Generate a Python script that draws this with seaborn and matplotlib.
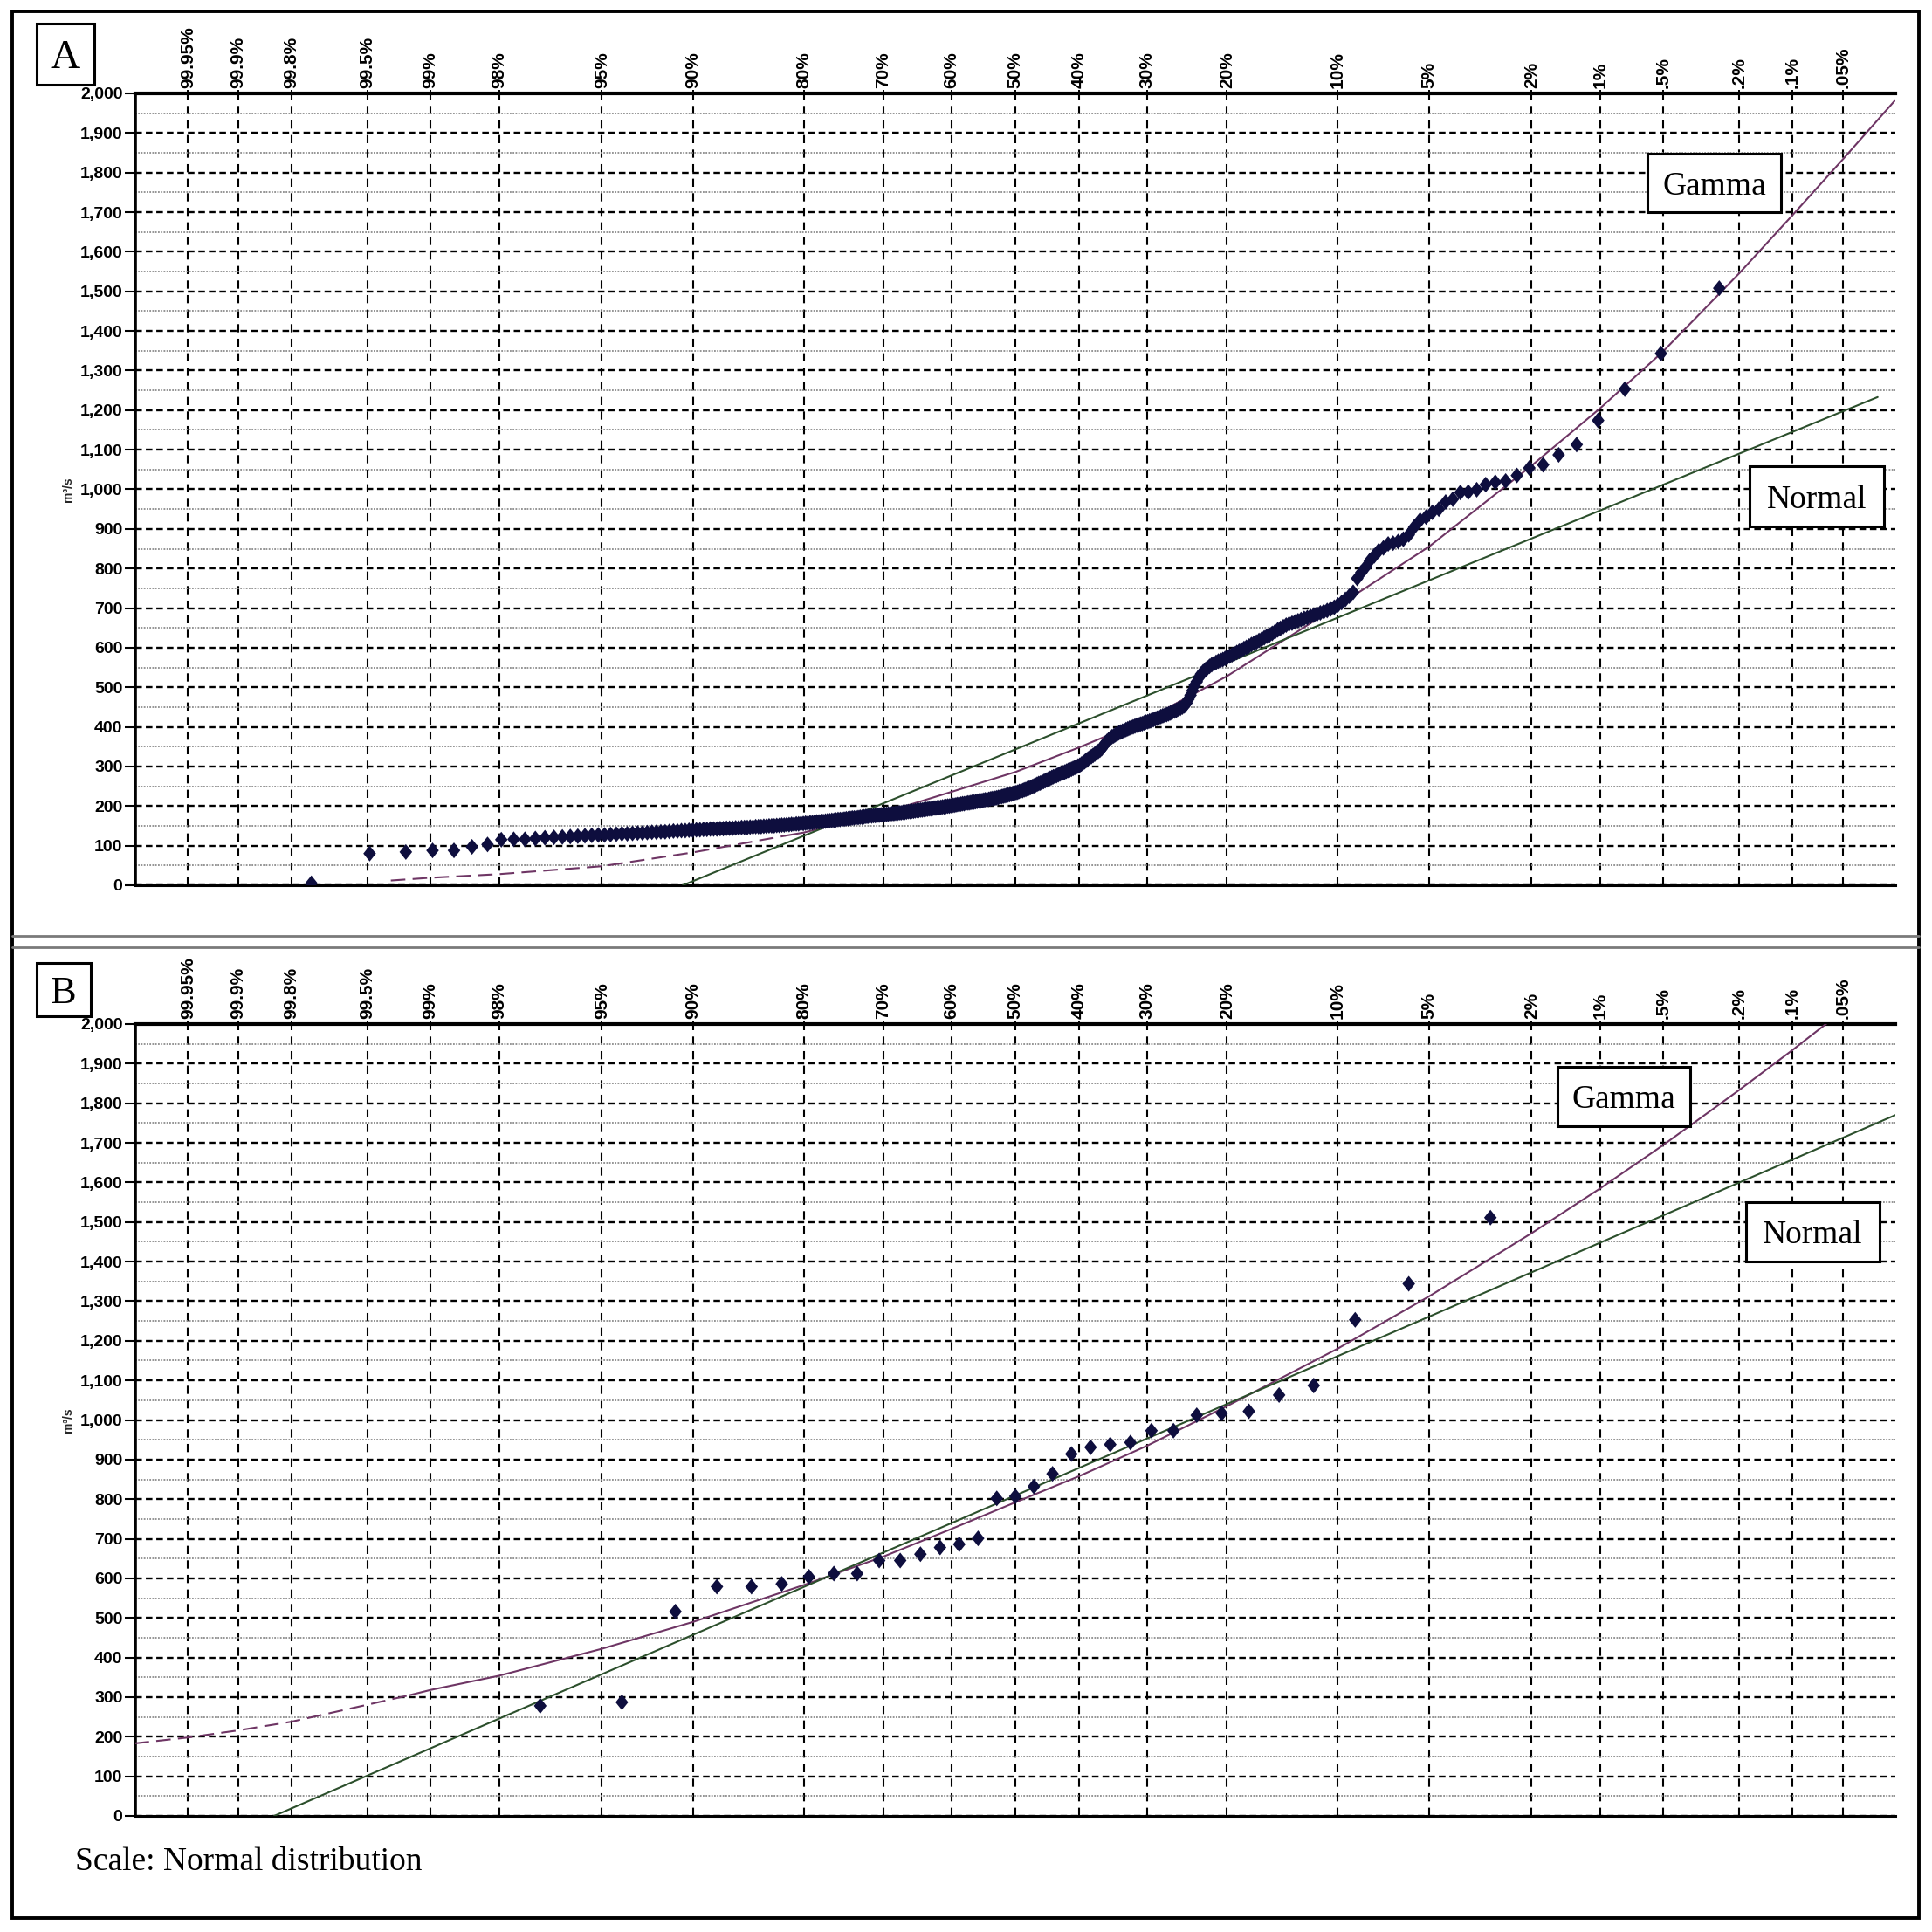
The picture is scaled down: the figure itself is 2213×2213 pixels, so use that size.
import numpy as np
import pandas as pd
import matplotlib
matplotlib.use("Agg")
import matplotlib.pyplot as plt
import seaborn as sns
from matplotlib.patches import Rectangle
from matplotlib.lines import Line2D
from statistics import NormalDist

# ---------------- data ----------------
# exceedance-probability tick marks (top axis)
PROB_TICKS = [99.95, 99.9, 99.8, 99.5, 99, 98, 95, 90, 80, 70, 60, 50, 40, 30,
              20, 10, 5, 2, 1, 0.5, 0.2, 0.1, 0.05]
PROB_LABELS = ["99.95%", "99.9%", "99.8%", "99.5%", "99%", "98%", "95%", "90%",
               "80%", "70%", "60%", "50%", "40%", "30%", "20%", "10%", "5%",
               "2%", "1%", ".5%", ".2%", ".1%", ".05%"]
Y_TICKS = list(range(0, 2001, 100))
Y_LABELS = [f"{v:,}" for v in Y_TICKS]

# Panel A: observed flows (m3/s), ranked from largest to smallest
FLOW_A = [
    1508, 1343, 1253, 1174, 1113, 1087, 1062, 1054, 1035, 1021,
    1018, 1012, 999, 993, 992, 975, 968, 950, 942, 930,
    922, 905, 885, 874, 868, 864, 862, 852, 845, 832,
    820, 803, 790, 775, 740, 730, 722, 714, 708, 702,
    698, 694, 691, 688, 685, 682, 679, 676, 674, 671,
    668, 665, 662, 660, 657, 653, 649, 645, 640, 636,
    632, 629, 625, 621, 618, 614, 611, 608, 604, 601,
    598, 594, 591, 588, 585, 582, 579, 576, 573, 570,
    568, 566, 563, 560, 557, 553, 549, 544, 539, 533,
    524, 514, 505, 492, 480, 470, 460, 453, 450, 447,
    445, 442, 440, 438, 435, 433, 431, 429, 428, 426,
    424, 422, 420, 418, 416, 415, 413, 412, 410, 408,
    407, 405, 404, 402, 400, 399, 397, 395, 393, 391,
    389, 387, 385, 382, 380, 377, 375, 371, 367, 363,
    358, 351, 345, 341, 338, 335, 331, 328, 325, 322,
    319, 316, 312, 309, 306, 303, 301, 299, 297, 295,
    293, 291, 290, 288, 286, 284, 283, 281, 279, 277,
    275, 274, 272, 270, 268, 266, 264, 262, 260, 258,
    257, 255, 253, 251, 249, 247, 245, 244, 242, 241,
    239, 238, 237, 235, 234, 233, 232, 230, 229, 228,
    227, 226, 225, 224, 223, 222, 221, 220, 219, 219,
    218, 217, 216, 216, 215, 214, 213, 213, 212, 211,
    210, 210, 209, 208, 208, 207, 206, 206, 205, 204,
    204, 203, 202, 202, 201, 200, 200, 199, 198, 198,
    197, 196, 196, 195, 195, 194, 193, 193, 192, 192,
    191, 190, 190, 189, 189, 188, 187, 187, 186, 186,
    185, 184, 184, 183, 183, 182, 182, 181, 181, 180,
    180, 179, 179, 178, 178, 177, 177, 176, 176, 175,
    175, 174, 174, 173, 172, 172, 171, 171, 170, 170,
    169, 168, 168, 167, 167, 166, 166, 165, 164, 164,
    163, 163, 162, 161, 161, 160, 160, 159, 158, 158,
    157, 157, 156, 156, 155, 155, 154, 154, 153, 153,
    152, 152, 151, 151, 150, 150, 150, 149, 149, 148,
    148, 148, 147, 147, 146, 146, 146, 145, 145, 144,
    144, 144, 143, 143, 142, 142, 142, 141, 141, 140,
    140, 139, 139, 138, 138, 137, 137, 136, 135, 135,
    134, 134, 133, 132, 132, 131, 130, 130, 129, 128,
    127, 127, 126, 125, 124, 123, 122, 121, 120, 118,
    116, 116, 115, 103, 97, 88, 88, 84, 80, 5,
]

# Panel B: observed flows (m3/s), ranked from largest to smallest
FLOW_B = [1511, 1344, 1253, 1087, 1063, 1022, 1017, 1012, 973, 973,
          943, 938, 931, 914, 864, 832, 807, 802, 701, 686,
          678, 661, 645, 645, 612, 612, 604, 586, 579, 579,
          516, 287, 278]

# fitted curves: exceedance probability (%) and flow (m3/s)
GAMMA_A_EXC = [99.35, 99, 98, 95, 90, 82, 80, 70, 60, 50, 40, 30, 20, 10,
               5, 2, 1, 0.5, 0.2, 0.1, 0.05, 0.0233]
GAMMA_A_VAL = [12, 19, 28, 48, 83, 125, 133, 183, 236, 286, 348, 420, 528, 705,
               855, 1060, 1205, 1348, 1545, 1692, 1833, 1983]
GAMMA_A_DASHED_TO = 82          # dashed for exceedance >= this value

NORMAL_A_EXC = [90.7, 0.0302]
NORMAL_A_VAL = [0, 1233]

GAMMA_B_EXC = [99.977, 99.95, 99.9, 99.8, 99.5, 99.2, 99, 98, 95, 90, 80, 70,
               60, 50, 40, 30, 20, 10, 5, 2, 1, 0.5, 0.2, 0.1, 0.05]
GAMMA_B_VAL = [183, 198, 216, 238, 281, 305, 318, 354, 422, 490, 583, 655,
               725, 792, 858, 935, 1035, 1180, 1312, 1472, 1585, 1694, 1833,
               1934, 2033]
GAMMA_B_DASHED_TO = 99.2

NORMAL_B_EXC = [99.84, 0.0233]
NORMAL_B_VAL = [0, 1770]

# ---------------- styling ----------------
sns.set_theme(style="white")
plt.rcParams['font.family'] = ['Liberation Sans', 'DejaVu Sans']
plt.rcParams['text.color'] = 'black'
plt.rcParams['xtick.color'] = 'black'
plt.rcParams['ytick.color'] = 'black'

SERIF = ['Liberation Serif', 'DejaVu Serif']
PT_COLOR = '#0e0e3e'
GAMMA_COLOR = '#6e3564'
NORMAL_COLOR = '#2c4f2c'

_nd = NormalDist()
_ppf1 = np.vectorize(lambda q: _nd.inv_cdf(min(max(q, 1e-12), 1 - 1e-12)), otypes=[float])
_cdf1 = np.vectorize(lambda z: _nd.cdf(z), otypes=[float])


def prob_fwd(q):
    return _ppf1(np.asarray(q, dtype=float))


def prob_inv(z):
    return _cdf1(np.asarray(z, dtype=float))


def exc_to_q(exc_pct):
    return 1.0 - np.asarray(exc_pct, dtype=float) / 100.0


def weibull_q(values):
    n = len(values)
    rank = np.arange(1, n + 1)
    return 1.0 - rank / (n + 1.0)


W = H = 2213
fig = plt.figure(figsize=(W / 100, H / 100), dpi=100)
fig.patch.set_facecolor('white')

axA = fig.add_axes([155 / W, 1 - 1014 / H, (2171 - 155) / W, 907 / H])
axB = fig.add_axes([155 / W, 1 - 2080 / H, (2171 - 155) / W, 907 / H])

MARKER = [(0, 1), (0.8, 0), (0, -1), (-0.8, 0)]


def draw_panel(ax, flows, g_exc, g_val, g_split, n_exc, n_val):
    ax.set_xscale('function', functions=(prob_fwd, prob_inv))
    ax.set_facecolor('white')

    # fitted gamma curve (dashed lower part, solid upper part)
    g_exc = np.asarray(g_exc, float)
    g_val = np.asarray(g_val, float)
    low = g_exc >= g_split
    high = g_exc <= g_split
    sns.lineplot(x=exc_to_q(g_exc[low]), y=g_val[low], ax=ax, color=GAMMA_COLOR,
                 linewidth=1.5, linestyle=(0, (8, 4)), sort=False, estimator=None,
                 zorder=3)
    sns.lineplot(x=exc_to_q(g_exc[high]), y=g_val[high], ax=ax, color=GAMMA_COLOR,
                 linewidth=1.5, sort=False, estimator=None, zorder=3)
    # fitted normal line
    sns.lineplot(x=exc_to_q(n_exc), y=n_val, ax=ax, color=NORMAL_COLOR,
                 linewidth=1.5, sort=False, estimator=None, zorder=3)
    # observed data
    df = pd.DataFrame({'q': weibull_q(flows), 'flow': flows})
    sns.scatterplot(data=df, x='q', y='flow', ax=ax, marker=MARKER, s=170,
                    color=PT_COLOR, edgecolor='none', linewidth=0, zorder=5)

    ax.set_xlim(float(prob_inv(-3.5)), float(prob_inv(3.5)))
    ax.set_ylim(0, 2000)
    ax.set_xlabel('')
    ax.set_ylabel('m³/s', fontsize=10, fontweight='bold', labelpad=5)

    ax.set_xticks(exc_to_q(PROB_TICKS))
    ax.set_xticklabels(PROB_LABELS, rotation=90, fontsize=15, fontweight='bold')
    ax.xaxis.set_minor_locator(matplotlib.ticker.NullLocator())
    ax.xaxis.tick_top()
    ax.tick_params(axis='x', which='major', top=True, bottom=False, labeltop=True,
                   labelbottom=False, length=3, width=1.4, pad=1.5, direction='out')

    ax.set_yticks(Y_TICKS)
    ax.set_yticklabels(Y_LABELS, fontsize=14, fontweight='bold')
    ax.set_yticks(list(range(50, 2000, 100)), minor=True)
    ax.tick_params(axis='y', which='major', left=True, length=9, width=1.5, pad=1.5,
                   direction='out')
    ax.tick_params(axis='y', which='minor', left=False, length=0)

    ax.grid(False)
    ax.grid(True, axis='x', which='major', color='black',
            linestyle=(0, (4.5, 3.5)), linewidth=1.5)
    ax.grid(True, axis='y', which='major', color='black',
            linestyle=(0, (3.2, 1.9)), linewidth=1.7)
    ax.grid(True, axis='y', which='minor', color='#8c8c8c',
            linestyle=(0, (1, 0.8)), linewidth=1.3)
    ax.set_axisbelow(True)

    for side in ['top', 'left', 'bottom', 'right']:
        ax.spines[side].set_color('black')
    ax.spines['top'].set_linewidth(3.0)
    ax.spines['left'].set_linewidth(2.6)
    ax.spines['bottom'].set_linewidth(2.2)
    ax.spines['right'].set_visible(False)
    if ax.get_legend() is not None:
        ax.get_legend().remove()


draw_panel(axA, FLOW_A, GAMMA_A_EXC, GAMMA_A_VAL, GAMMA_A_DASHED_TO,
           NORMAL_A_EXC, NORMAL_A_VAL)
draw_panel(axB, FLOW_B, GAMMA_B_EXC, GAMMA_B_VAL, GAMMA_B_DASHED_TO,
           NORMAL_B_EXC, NORMAL_B_VAL)


# ---------------- frames, boxes and annotations (figure pixels) ----------------
def fig_rect(x0, y0, x1, y1, lw=2.2, ec='black', fc='white', z=10):
    r = Rectangle((x0 / W, 1 - y1 / H), (x1 - x0) / W, (y1 - y0) / H,
                  transform=fig.transFigure, linewidth=lw, edgecolor=ec,
                  facecolor=fc, zorder=z)
    fig.add_artist(r)


def fig_hline(y, x0, x1, color, lw):
    fig.add_artist(Line2D([x0 / W, x1 / W], [1 - y / H, 1 - y / H],
                          transform=fig.transFigure, color=color, linewidth=lw,
                          zorder=11))


# outer frame and the double separator between panels
fig_rect(14, 13, 2198, 2197, lw=2.8, fc='none', z=1)
fig_hline(1072, 14, 2198, '#7a7a7a', 2.0)
fig_hline(1085, 14, 2198, '#7a7a7a', 2.0)


def boxed_text(x0, y0, x1, y1, text, size, lw=2.2):
    fig_rect(x0, y0, x1, y1, lw=lw)
    fig.text((x0 + x1) / 2 / W, 1 - (y0 + y1) / 2 / H, text, ha='center',
             va='center_baseline', fontsize=size, family=SERIF, zorder=12)


boxed_text(42, 27, 108, 97, 'A', 34)
boxed_text(42, 1103, 104, 1164, 'B', 32)
boxed_text(1887, 176, 2040, 243, 'Gamma', 27)
boxed_text(2004, 534, 2158, 603, 'Normal', 27)
boxed_text(1784, 1222, 1936, 1290, 'Gamma', 27)
boxed_text(2000, 1377, 2153, 1445, 'Normal', 27)

fig.text(86 / W, 1 - 2142 / H, 'Scale: Normal distribution', ha='left',
         va='baseline', fontsize=27, family=SERIF)

fig.savefig('out.png', dpi=100, facecolor='white')
